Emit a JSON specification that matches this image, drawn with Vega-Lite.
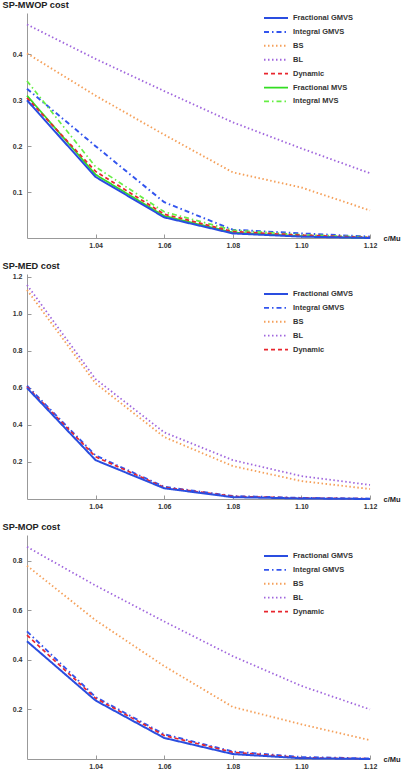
{
  "$schema": "https://vega.github.io/schema/vega-lite/v6.json",
  "padding": {"left": 2, "top": 0, "right": 0, "bottom": 0},
  "background": "white",
  "spacing": 13,
  "config": {
    "view": {"stroke": null},
    "axis": {
      "grid": false,
      "domainColor": "#999999",
      "tickColor": "#999999",
      "labelFont": "Liberation Sans",
      "labelFontWeight": "bold",
      "labelFontSize": 7,
      "labelColor": "#333333",
      "titleFont": "Liberation Sans",
      "titleFontWeight": "bold",
      "titleColor": "#222222",
      "labelFlush": false,
      "tickSize": -4
    },
    "axisX": {"labelPadding": 7, "titleX": 356, "titleY": 0, "titleAlign": "left", "titleBaseline": "middle", "titleFontSize": 7.5},
    "axisY": {"labelPadding": 9, "titleAngle": 0, "titleX": -25, "titleY": -9, "titleAlign": "left", "titleBaseline": "middle", "titleFontSize": 9.2},
    "legend": {
      "symbolType": "M-2.4,0H2.4", "symbolSize": 100, "symbolStrokeWidth": 2,
      "labelFont": "Liberation Sans", "labelFontWeight": "bold", "labelFontSize": 7.5,
      "labelColor": "#333333", "labelOffset": 11, "rowPadding": 3.9
    }
  },
  "data": {"values": [
    {"panel": 1, "method": "BL", "x": 1.02, "y": 0.465}, {"panel": 1, "method": "BL", "x": 1.04, "y": 0.390}, {"panel": 1, "method": "BL", "x": 1.06, "y": 0.320}, {"panel": 1, "method": "BL", "x": 1.08, "y": 0.252}, {"panel": 1, "method": "BL", "x": 1.10, "y": 0.195}, {"panel": 1, "method": "BL", "x": 1.12, "y": 0.141},
    {"panel": 1, "method": "BS", "x": 1.02, "y": 0.402}, {"panel": 1, "method": "BS", "x": 1.04, "y": 0.310}, {"panel": 1, "method": "BS", "x": 1.06, "y": 0.225}, {"panel": 1, "method": "BS", "x": 1.08, "y": 0.143}, {"panel": 1, "method": "BS", "x": 1.10, "y": 0.110}, {"panel": 1, "method": "BS", "x": 1.12, "y": 0.060},
    {"panel": 1, "method": "Integral GMVS", "x": 1.02, "y": 0.325}, {"panel": 1, "method": "Integral GMVS", "x": 1.04, "y": 0.200}, {"panel": 1, "method": "Integral GMVS", "x": 1.06, "y": 0.078}, {"panel": 1, "method": "Integral GMVS", "x": 1.08, "y": 0.018}, {"panel": 1, "method": "Integral GMVS", "x": 1.10, "y": 0.010}, {"panel": 1, "method": "Integral GMVS", "x": 1.12, "y": 0.003},
    {"panel": 1, "method": "Integral MVS", "x": 1.02, "y": 0.342}, {"panel": 1, "method": "Integral MVS", "x": 1.04, "y": 0.155}, {"panel": 1, "method": "Integral MVS", "x": 1.06, "y": 0.057}, {"panel": 1, "method": "Integral MVS", "x": 1.08, "y": 0.017}, {"panel": 1, "method": "Integral MVS", "x": 1.10, "y": 0.007}, {"panel": 1, "method": "Integral MVS", "x": 1.12, "y": 0.002},
    {"panel": 1, "method": "Fractional MVS", "x": 1.02, "y": 0.310}, {"panel": 1, "method": "Fractional MVS", "x": 1.04, "y": 0.138}, {"panel": 1, "method": "Fractional MVS", "x": 1.06, "y": 0.048}, {"panel": 1, "method": "Fractional MVS", "x": 1.08, "y": 0.012}, {"panel": 1, "method": "Fractional MVS", "x": 1.10, "y": 0.004}, {"panel": 1, "method": "Fractional MVS", "x": 1.12, "y": 0.000},
    {"panel": 1, "method": "Dynamic", "x": 1.02, "y": 0.305}, {"panel": 1, "method": "Dynamic", "x": 1.04, "y": 0.145}, {"panel": 1, "method": "Dynamic", "x": 1.06, "y": 0.052}, {"panel": 1, "method": "Dynamic", "x": 1.08, "y": 0.014}, {"panel": 1, "method": "Dynamic", "x": 1.10, "y": 0.006}, {"panel": 1, "method": "Dynamic", "x": 1.12, "y": 0.001},
    {"panel": 1, "method": "Fractional GMVS", "x": 1.02, "y": 0.300}, {"panel": 1, "method": "Fractional GMVS", "x": 1.04, "y": 0.133}, {"panel": 1, "method": "Fractional GMVS", "x": 1.06, "y": 0.045}, {"panel": 1, "method": "Fractional GMVS", "x": 1.08, "y": 0.010}, {"panel": 1, "method": "Fractional GMVS", "x": 1.10, "y": 0.003}, {"panel": 1, "method": "Fractional GMVS", "x": 1.12, "y": 0.000},

    {"panel": 2, "method": "BL", "x": 1.02, "y": 1.157}, {"panel": 2, "method": "BL", "x": 1.04, "y": 0.648}, {"panel": 2, "method": "BL", "x": 1.06, "y": 0.360}, {"panel": 2, "method": "BL", "x": 1.08, "y": 0.210}, {"panel": 2, "method": "BL", "x": 1.10, "y": 0.124}, {"panel": 2, "method": "BL", "x": 1.12, "y": 0.076},
    {"panel": 2, "method": "BS", "x": 1.02, "y": 1.130}, {"panel": 2, "method": "BS", "x": 1.04, "y": 0.625}, {"panel": 2, "method": "BS", "x": 1.06, "y": 0.335}, {"panel": 2, "method": "BS", "x": 1.08, "y": 0.178}, {"panel": 2, "method": "BS", "x": 1.10, "y": 0.097}, {"panel": 2, "method": "BS", "x": 1.12, "y": 0.054},
    {"panel": 2, "method": "Integral GMVS", "x": 1.02, "y": 0.612}, {"panel": 2, "method": "Integral GMVS", "x": 1.04, "y": 0.235}, {"panel": 2, "method": "Integral GMVS", "x": 1.06, "y": 0.066}, {"panel": 2, "method": "Integral GMVS", "x": 1.08, "y": 0.016}, {"panel": 2, "method": "Integral GMVS", "x": 1.10, "y": 0.006}, {"panel": 2, "method": "Integral GMVS", "x": 1.12, "y": 0.002},
    {"panel": 2, "method": "Dynamic", "x": 1.02, "y": 0.606}, {"panel": 2, "method": "Dynamic", "x": 1.04, "y": 0.228}, {"panel": 2, "method": "Dynamic", "x": 1.06, "y": 0.063}, {"panel": 2, "method": "Dynamic", "x": 1.08, "y": 0.014}, {"panel": 2, "method": "Dynamic", "x": 1.10, "y": 0.005}, {"panel": 2, "method": "Dynamic", "x": 1.12, "y": 0.001},
    {"panel": 2, "method": "Fractional GMVS", "x": 1.02, "y": 0.600}, {"panel": 2, "method": "Fractional GMVS", "x": 1.04, "y": 0.210}, {"panel": 2, "method": "Fractional GMVS", "x": 1.06, "y": 0.058}, {"panel": 2, "method": "Fractional GMVS", "x": 1.08, "y": 0.010}, {"panel": 2, "method": "Fractional GMVS", "x": 1.10, "y": 0.003}, {"panel": 2, "method": "Fractional GMVS", "x": 1.12, "y": 0.000},

    {"panel": 3, "method": "BL", "x": 1.02, "y": 0.856}, {"panel": 3, "method": "BL", "x": 1.04, "y": 0.700}, {"panel": 3, "method": "BL", "x": 1.06, "y": 0.555}, {"panel": 3, "method": "BL", "x": 1.08, "y": 0.415}, {"panel": 3, "method": "BL", "x": 1.10, "y": 0.295}, {"panel": 3, "method": "BL", "x": 1.12, "y": 0.200},
    {"panel": 3, "method": "BS", "x": 1.02, "y": 0.780}, {"panel": 3, "method": "BS", "x": 1.04, "y": 0.560}, {"panel": 3, "method": "BS", "x": 1.06, "y": 0.375}, {"panel": 3, "method": "BS", "x": 1.08, "y": 0.210}, {"panel": 3, "method": "BS", "x": 1.10, "y": 0.140}, {"panel": 3, "method": "BS", "x": 1.12, "y": 0.076},
    {"panel": 3, "method": "Integral GMVS", "x": 1.02, "y": 0.515}, {"panel": 3, "method": "Integral GMVS", "x": 1.04, "y": 0.250}, {"panel": 3, "method": "Integral GMVS", "x": 1.06, "y": 0.100}, {"panel": 3, "method": "Integral GMVS", "x": 1.08, "y": 0.030}, {"panel": 3, "method": "Integral GMVS", "x": 1.10, "y": 0.008}, {"panel": 3, "method": "Integral GMVS", "x": 1.12, "y": 0.002},
    {"panel": 3, "method": "Dynamic", "x": 1.02, "y": 0.500}, {"panel": 3, "method": "Dynamic", "x": 1.04, "y": 0.245}, {"panel": 3, "method": "Dynamic", "x": 1.06, "y": 0.095}, {"panel": 3, "method": "Dynamic", "x": 1.08, "y": 0.027}, {"panel": 3, "method": "Dynamic", "x": 1.10, "y": 0.005}, {"panel": 3, "method": "Dynamic", "x": 1.12, "y": 0.001},
    {"panel": 3, "method": "Fractional GMVS", "x": 1.02, "y": 0.475}, {"panel": 3, "method": "Fractional GMVS", "x": 1.04, "y": 0.236}, {"panel": 3, "method": "Fractional GMVS", "x": 1.06, "y": 0.085}, {"panel": 3, "method": "Fractional GMVS", "x": 1.08, "y": 0.020}, {"panel": 3, "method": "Fractional GMVS", "x": 1.10, "y": 0.003}, {"panel": 3, "method": "Fractional GMVS", "x": 1.12, "y": 0.000}
  ]},
  "resolve": {
    "scale": {"color": "independent", "strokeDash": "independent", "strokeWidth": "independent", "y": "independent"},
    "legend": {"color": "independent", "strokeDash": "independent"}
  },
  "vconcat": [
    {
      "width": 343, "height": 225,
      "transform": [{"filter": "datum.panel == 1"}],
      "mark": {"type": "line"},
      "encoding": {
        "x": {"field": "x", "type": "quantitative", "scale": {"domain": [1.02, 1.12], "nice": false, "zero": false}, "axis": {"values": [1.04, 1.06, 1.08, 1.1, 1.12], "format": ".2f", "title": "c/Mu"}},
        "y": {"field": "y", "type": "quantitative", "scale": {"domain": [0, 0.49], "nice": false}, "axis": {"values": [0.1, 0.2, 0.3, 0.4], "format": ".1f", "title": "SP-MWOP cost"}},
        "color": {"field": "method", "type": "nominal",
          "legend": {"orient": "none", "legendX": 243, "legendY": -1, "title": null},
          "scale": {"domain": ["Fractional GMVS", "Integral GMVS", "BS", "BL", "Dynamic", "Fractional MVS", "Integral MVS"],
                    "range": ["#2a4de0", "#3355ee", "#f5a05a", "#a066dd", "#e8262e", "#33dd22", "#66ee44"]}},
        "strokeDash": {"field": "method", "type": "nominal",
          "legend": {"orient": "none", "legendX": 243, "legendY": -1, "title": null},
          "scale": {"domain": ["Fractional GMVS", "Integral GMVS", "BS", "BL", "Dynamic", "Fractional MVS", "Integral MVS"],
                    "range": [[1, 0], [5, 3, 1.5, 3], [1.5, 2.5], [1.5, 2.5], [4, 3], [1, 0], [5, 3, 1.5, 3]]}},
        "strokeWidth": {"field": "method", "type": "nominal", "legend": null,
          "scale": {"domain": ["Fractional GMVS", "Integral GMVS", "BS", "BL", "Dynamic", "Fractional MVS", "Integral MVS"],
                    "range": [2, 1.7, 1.6, 1.6, 1.8, 2, 1.7]}}
      }
    },
    {
      "width": 343, "height": 225,
      "transform": [{"filter": "datum.panel == 2"}],
      "mark": {"type": "line"},
      "encoding": {
        "x": {"field": "x", "type": "quantitative", "scale": {"domain": [1.02, 1.12], "nice": false, "zero": false}, "axis": {"values": [1.04, 1.06, 1.08, 1.1, 1.12], "format": ".2f", "title": "c/Mu"}},
        "y": {"field": "y", "type": "quantitative", "scale": {"domain": [0, 1.216], "nice": false}, "axis": {"values": [0.2, 0.4, 0.6, 0.8, 1.0, 1.2], "format": ".1f", "title": "SP-MED cost"}},
        "color": {"field": "method", "type": "nominal",
          "legend": {"orient": "none", "legendX": 243, "legendY": 14, "title": null},
          "scale": {"domain": ["Fractional GMVS", "Integral GMVS", "BS", "BL", "Dynamic"],
                    "range": ["#2a4de0", "#3355ee", "#f5a05a", "#a066dd", "#e8262e"]}},
        "strokeDash": {"field": "method", "type": "nominal",
          "legend": {"orient": "none", "legendX": 243, "legendY": 14, "title": null},
          "scale": {"domain": ["Fractional GMVS", "Integral GMVS", "BS", "BL", "Dynamic"],
                    "range": [[1, 0], [5, 3, 1.5, 3], [1.5, 2.5], [1.5, 2.5], [4, 3]]}},
        "strokeWidth": {"field": "method", "type": "nominal", "legend": null,
          "scale": {"domain": ["Fractional GMVS", "Integral GMVS", "BS", "BL", "Dynamic"],
                    "range": [2, 1.7, 1.6, 1.6, 1.8]}}
      }
    },
    {
      "width": 343, "height": 224,
      "transform": [{"filter": "datum.panel == 3"}],
      "mark": {"type": "line"},
      "encoding": {
        "x": {"field": "x", "type": "quantitative", "scale": {"domain": [1.02, 1.12], "nice": false, "zero": false}, "axis": {"values": [1.04, 1.06, 1.08, 1.1, 1.12], "format": ".2f", "title": "c/Mu"}},
        "y": {"field": "y", "type": "quantitative", "scale": {"domain": [0, 0.904], "nice": false}, "axis": {"values": [0.2, 0.4, 0.6, 0.8], "format": ".1f", "title": "SP-MOP cost"}},
        "color": {"field": "method", "type": "nominal",
          "legend": {"orient": "none", "legendX": 243, "legendY": 15, "title": null},
          "scale": {"domain": ["Fractional GMVS", "Integral GMVS", "BS", "BL", "Dynamic"],
                    "range": ["#2a4de0", "#3355ee", "#f5a05a", "#a066dd", "#e8262e"]}},
        "strokeDash": {"field": "method", "type": "nominal",
          "legend": {"orient": "none", "legendX": 243, "legendY": 15, "title": null},
          "scale": {"domain": ["Fractional GMVS", "Integral GMVS", "BS", "BL", "Dynamic"],
                    "range": [[1, 0], [5, 3, 1.5, 3], [1.5, 2.5], [1.5, 2.5], [4, 3]]}},
        "strokeWidth": {"field": "method", "type": "nominal", "legend": null,
          "scale": {"domain": ["Fractional GMVS", "Integral GMVS", "BS", "BL", "Dynamic"],
                    "range": [2, 1.7, 1.6, 1.6, 1.8]}}
      }
    }
  ]
}
